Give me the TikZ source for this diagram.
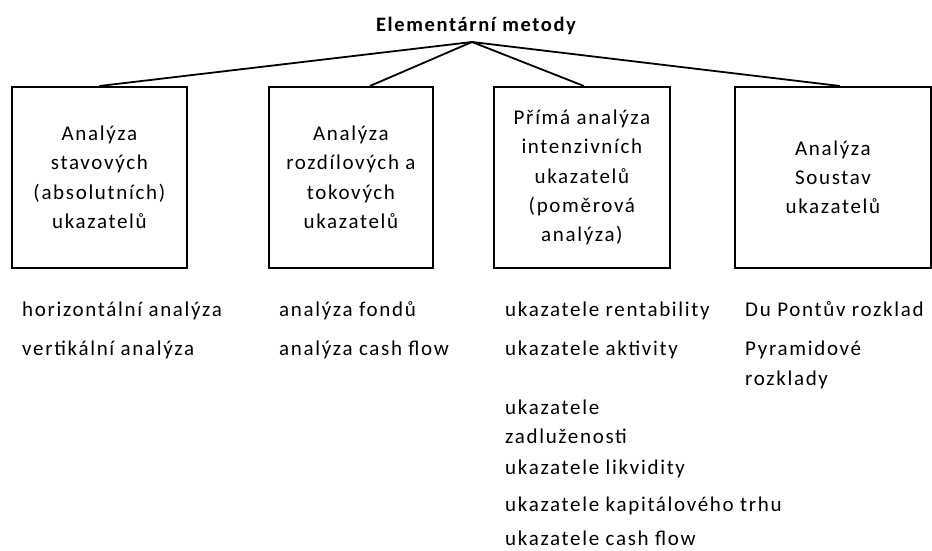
\documentclass[tikz,border=0pt]{standalone}
\usepackage{fontspec}
\setmainfont{Carlito}[LetterSpace=8]
\usetikzlibrary{positioning}

\begin{document}
\begin{tikzpicture}[x=1pt,y=-1pt,
  boxnode/.style={draw, line width=1.8pt, anchor=north west, minimum height=181pt,
    align=center, inner sep=0pt, font=\fontsize{21}{29.3}\selectfont},
  itemnode/.style={anchor=base west, inner sep=0pt, font=\fontsize{21}{24}\selectfont},
  link/.style={line width=1.8pt}]

\useasboundingbox (0,0) rectangle (932,551);

% Title
\node[font=\fontsize{20.5}{24}\selectfont\bfseries, anchor=base] (title) at (476,32) {Elementární metody};
\coordinate (apex) at (472,42);

% --- Boxes ---
\node[boxnode, minimum width=175pt] (stav) at (11,86) {Analýza\\stavových\\(absolutních)\\ukazatelů};
\node[boxnode, minimum width=164pt] (rozd) at (268,86) {Analýza\\rozdílových a\\tokových\\ukazatelů};
\node[boxnode, minimum width=176pt] (prim) at (493,86) {Přímá analýza\\intenzivních\\ukazatelů\\(poměrová\\analýza)};
\node[boxnode, minimum width=196pt] (sous) at (734,86) {Analýza\\Soustav\\ukazatelů};

% Links from title
\draw[link] (apex) -- (stav.north);
\draw[link] (apex) -- ([xshift=19pt]rozd.north);
\draw[link] (apex) -- ([xshift=2pt]prim.north);
\draw[link] (apex) -- ([xshift=7pt]sous.north);

% --- Column 1 ---
\def\colone{22}
\node[itemnode] (horiz) at (\colone,316) {horizontální analýza};
\node[itemnode] (vert) at (\colone,355) {vertikální analýza};

% --- Column 2 ---
\def\coltwo{279}
\node[itemnode] (fond) at (\coltwo,316) {analýza fondů};
\node[itemnode] (cfa) at (\coltwo,355) {analýza cash flow};

% --- Column 3 ---
\def\colthree{505}
\node[itemnode] (rent) at (\colthree,316) {ukazatele rentability};
\node[itemnode] (aktiv) at (\colthree,355) {ukazatele aktivity};
\node[itemnode] (zadl) at (\colthree,414) {ukazatele};
\node[itemnode] (zadlb) at (\colthree,443) {zadluženosti};
\node[itemnode] (likv) at (\colthree,474) {ukazatele likvidity};
\node[itemnode] (trh) at (\colthree,511) {ukazatele kapitálového trhu};
\node[itemnode] (cfu) at (\colthree,545) {ukazatele cash flow};

% --- Column 4 ---
\def\colfour{745}
\node[itemnode] (dupont) at (\colfour,316) {Du Pontův rozklad};
\node[itemnode] (pyr) at (\colfour,355) {Pyramidové};
\node[itemnode] (pyrb) at (\colfour,385) {rozklady};

\end{tikzpicture}
\end{document}
